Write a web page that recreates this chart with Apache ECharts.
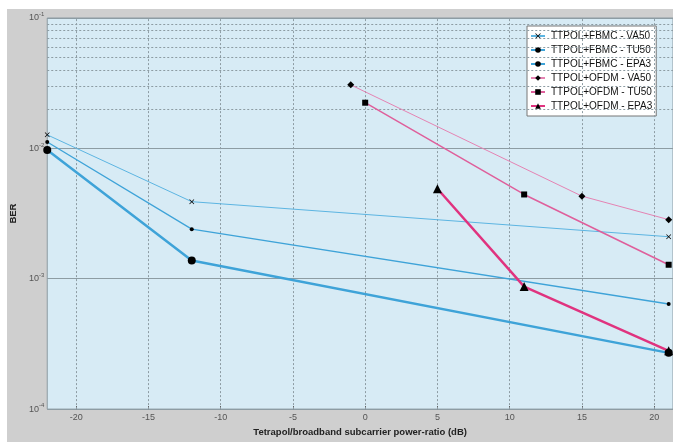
<!DOCTYPE html>
<html>
<head>
<meta charset="utf-8">
<script src="https://cdn.jsdelivr.net/npm/echarts@6/dist/echarts.min.js"></script>
<style>
  html, body { margin: 0; padding: 0; background: #ffffff; }
  #chart { width: 673px; height: 442px; }
</style>
</head>
<body>
<div id="chart"></div>
<script>
// data
var fbmcVA50 = [[-22, 0.0127], [-12, 0.0039], [21, 0.0021]];
var fbmcTU50 = [[-22, 0.0112], [-12, 0.0024], [21, 0.00064]];
var fbmcEPA3 = [[-22, 0.0097], [-12, 0.00138], [21, 0.00027]];
var ofdmVA50 = [[-1, 0.0307], [15, 0.0043], [21, 0.00284]];
var ofdmTU50 = [[0, 0.0224], [11, 0.00443], [21, 0.00128]];
var ofdmEPA3 = [[5, 0.0049], [11, 0.00087], [21, 0.00028]];

var xTicks = [-20, -15, -10, -5, 0, 5, 10, 15, 20];
var decades = [0.0001, 0.001, 0.01];
var minorMult = [2, 3, 4, 5, 6, 7, 8, 9];

var minorY = [];
decades.forEach(function (d) {
    minorMult.forEach(function (m) { minorY.push(d * m); });
});

var font = 'Liberation Sans';
var blue = '#3ea3d8';
var crossPath = 'path://M0,1L1,0L5,4L9,0L10,1L6,5L10,9L9,10L5,6L1,10L0,9L4,5Z';

var myChart = echarts.init(document.getElementById('chart'));

function line(name, data, color, width, symbol, size) {
    return {
        name: name,
        type: 'line',
        data: data,
        symbol: symbol,
        symbolSize: size,
        showAllSymbol: true,
        lineStyle: { color: color, width: width },
        itemStyle: { color: '#000000' },
        emphasis: { disabled: true },
        z: 5
    };
}

var option = {
    animation: false,
    backgroundColor: '#ffffff',
    textStyle: { fontFamily: font },
    graphic: [{
        type: 'rect',
        shape: { x: 7, y: 9, width: 700, height: 440 },
        style: { fill: '#cfcfcf' },
        z: -10,
        silent: true
    }],
    grid: {
        left: 41, top: 18, right: 0, bottom: 26,
        show: true,
        backgroundColor: '#d7ebf5',
        borderWidth: 1,
        borderColor: '#8c9ba2'
    },
    legend: {
        orient: 'vertical',
        left: 527, top: 26,
        padding: [4, 4, 4, 3],
        itemGap: 2,
        itemWidth: 14,
        itemHeight: 7,
        backgroundColor: '#ffffff',
        borderColor: '#777777',
        borderWidth: 1,
        borderRadius: 0,
        textStyle: { fontSize: 10, lineHeight: 12, color: '#111111', fontFamily: font, padding: [0, 0, 0, 1] },
        data: ['TTPOL+FBMC - VA50', 'TTPOL+FBMC - TU50', 'TTPOL+FBMC - EPA3',
               'TTPOL+OFDM - VA50', 'TTPOL+OFDM - TU50', 'TTPOL+OFDM - EPA3']
    },
    xAxis: {
        type: 'value',
        min: -22,
        max: 21.3,
        name: 'Tetrapol/broadband subcarrier power-ratio (dB)',
        nameLocation: 'middle',
        nameGap: 15,
        nameTextStyle: { fontSize: 9.5, fontWeight: 'bold', color: '#222222', fontFamily: font },
        axisLine: { show: false },
        axisTick: { show: true, customValues: xTicks, length: 3, inside: true, lineStyle: { color: '#555555' } },
        axisLabel: { customValues: xTicks, fontSize: 9, color: '#555555', margin: 4 },
        splitLine: { show: false }
    },
    yAxis: {
        type: 'log',
        logBase: 10,
        min: 0.0001,
        max: 0.1,
        name: 'BER',
        nameLocation: 'middle',
        nameGap: 22,
        nameTextStyle: { fontSize: 9.5, fontWeight: 'bold', color: '#222222', fontFamily: font },
        axisLine: { show: false },
        axisTick: { show: false },
        axisLabel: {
            margin: 3,
            formatter: function (v) {
                return '{b|10}{s|' + Math.round(Math.log10(v)) + '}';
            },
            rich: {
                b: { fontSize: 9, color: '#555555', fontFamily: font },
                s: { fontSize: 6, color: '#555555', fontFamily: font, padding: [0, 0, 7, 0] }
            }
        },
        splitLine: { show: true, lineStyle: { color: '#8d9ca3', width: 1 } }
    },
    series: [
        {
            type: 'line',
            data: [],
            silent: true,
            markLine: {
                silent: true,
                symbol: 'none',
                animation: false,
                label: { show: false },
                lineStyle: { color: '#8d9ca3', type: [2, 2], width: 1 },
                data: minorY.map(function (v) { return { yAxis: v }; })
                    .concat(xTicks.map(function (v) { return { xAxis: v }; }))
            },
            z: 1
        },
        line('TTPOL+FBMC - VA50', fbmcVA50, '#5cb5e2', 1, crossPath, 5),
        line('TTPOL+FBMC - TU50', fbmcTU50, blue, 1.3, 'circle', 4),
        line('TTPOL+FBMC - EPA3', fbmcEPA3, blue, 2.5, 'circle', 8),
        line('TTPOL+OFDM - VA50', ofdmVA50, '#e583b3', 1, 'diamond', 7),
        line('TTPOL+OFDM - TU50', ofdmTU50, '#df5f9b', 1.5, 'rect', 6),
        line('TTPOL+OFDM - EPA3', ofdmEPA3, '#e0337f', 2.5, 'triangle', 9)
    ]
};

myChart.setOption(option);
</script>
</body>
</html>
